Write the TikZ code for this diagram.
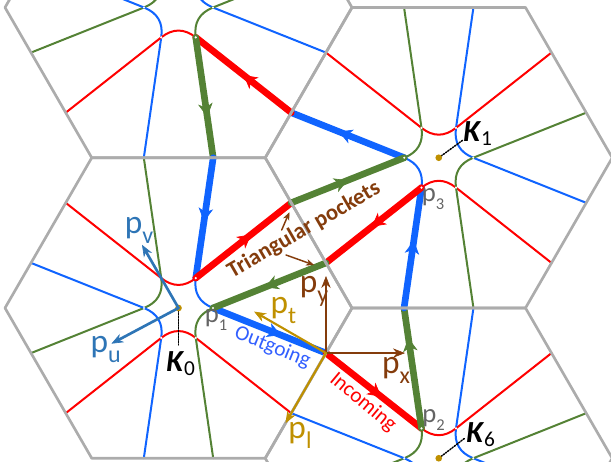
\documentclass[tikz,border=0pt]{standalone}
\usepackage{fontspec}
\setmainfont{Carlito}
\usetikzlibrary{calc,arrows.meta,decorations.markings}

\definecolor{fsred}{RGB}{255,0,0}
\definecolor{fsblue}{RGB}{16,100,255}
\definecolor{fsgreen}{RGB}{84,130,53}
\definecolor{zonegray}{RGB}{172,172,172}
\definecolor{pbrown}{RGB}{132,60,12}
\definecolor{pgold}{RGB}{191,144,0}
\definecolor{psteel}{RGB}{46,117,182}
\definecolor{pgray}{RGB}{100,100,100}
\definecolor{txtblue}{RGB}{50,95,255}

\newcommand{\lowidx}[2][0.72]{\raisebox{-0.3em}{\scalebox{#1}{#2}}}
\newcommand{\kname}[1]{\textbf{\textit{K}}\raisebox{-2.5pt}{\fontsize{16}{16}\selectfont #1}}

% zone radius and junction radius (px)
\def\zr{173.5}
\def\jr{34.5}

% six hyperbolic sheets of one zone around its K point
\newcommand{\zonesheets}[1]{%
  \foreach \k/\col in {0/fsblue,1/fsred,2/fsgreen,3/fsblue,4/fsred,5/fsgreen}{%
    \coordinate (Va) at ($(#1)+({-60*(\k+1)}:\zr)$);
    \coordinate (Vb) at ($(#1)+({-60*(\k+2)}:\zr)$);
    \coordinate (Vc) at ($(#1)+({-60*\k}:\zr)$);
    \coordinate (Vd) at ($(#1)+({-60*(\k-1)}:\zr)$);
    \coordinate (Ja) at ($(#1)+({-60*(\k+1)}:\jr)$);
    \coordinate (Jb) at ($(#1)+({-60*\k}:\jr)$);
    \coordinate (Ea) at ($(Va)!0.3!(Vb)$);
    \coordinate (Eb) at ($(Vc)!0.3!(Vd)$);
    \draw[sheet, \col] (Ea) -- (Ja)
      .. controls ($(Ja)!-11pt!(Ea)$) and ($(Jb)!-11pt!(Eb)$) .. (Jb) -- (Eb);
  }}

\begin{document}
\begin{tikzpicture}[x=0.75pt, y=-0.75pt, line cap=round, line join=round,
  sheet/.style={line width=1.5pt},
  zone/.style={draw=zonegray, line width=2pt},
  flow/.style={line width=5pt, postaction={decorate},
    decoration={markings, mark=at position #1 with
      {\arrow{Stealth[length=10pt,width=11pt,inset=3pt,line width=0.5pt]}}}},
  flow/.default=0.55,
  mom/.style={line width=1.6pt, -{Stealth[length=9pt,width=7pt,line width=0.5pt]}},
  pointer/.style={draw=pbrown, line width=1.1pt, -{Stealth[length=6pt,width=5pt,line width=0.4pt]}},
  plabel/.style={inner sep=0pt, font=\fontsize{25}{25}\selectfont},
  pnum/.style={inner sep=0pt, text=pgray, font=\fontsize{20}{20}\selectfont},
  klabel/.style={inner sep=0pt, anchor=base west, font=\fontsize{23}{23}\selectfont}]
  \useasboundingbox (0,0) rectangle (611,470);

  % K points (zone centres)
  \coordinate (T) at (178.5, 7.5);
  \coordinate (K0) at (178.5, 308);
  \coordinate (K1) at (438.75, 157.74);
  \coordinate (K6) at (438.75, 458.26);

  % Triangle corners
  \coordinate (A) at (195.75, 37.38);
  \coordinate (B) at (404.25, 157.74);
  \coordinate (C) at (195.75, 278.12);
  \coordinate (ab) at (291.28, 112.66);
  \coordinate (cb) at (291.28, 202.82);
  \coordinate (ac) at (213.2, 157.74);
  \coordinate (p1) at (213, 308);
  \coordinate (p2) at (421.5, 428.38);
  \coordinate (p3) at (421.5, 187.62);
  \coordinate (e12) at (325.98, 353.08);
  \coordinate (e13) at (325.98, 262.92);
  \coordinate (e23) at (404.05, 308);

  \begin{scope}
    \clip (0,0) rectangle (611,462);
    % Fermi sheets
    \zonesheets{T}
    \zonesheets{K0}
    \zonesheets{K1}
    \zonesheets{K6}

    % Triangular pockets
    \draw[flow=0.58, fsblue] (B) -- (ab);
    \draw[flow=0.5, fsred] (ab) -- (A);
    \draw[flow=0.66, fsgreen] (A) -- (ac);
    \draw[flow=0.53, fsblue] (ac) -- (C);
    \draw[flow=0.58, fsred] (C) -- (cb);
    \draw[flow=0.5, fsgreen] (cb) -- (B);

    \draw[flow=0.6, fsblue] (p1) -- (e12);
    \draw[flow=0.58, fsred] (e12) -- (p2);
    \draw[flow=0.75, fsgreen] (p2) -- (e23);
    \draw[flow=0.56, fsblue] (e23) -- (p3);
    \draw[flow=0.52, fsred] (p3) -- (e13);
    \draw[flow=0.54, fsgreen] (e13) -- (p1);

    % Crossings
    \foreach \c in {T,K0,K1,K6}
      \foreach \a in {0,60,...,300}
        \fill[white] ($(\c)+(\a:\jr)$) circle (0.9pt);

    % Zone boundaries
    \foreach \c in {T,K0,K1,K6}
      \draw[zone] ($(\c)+(0:\zr)$) \foreach \a in {60,120,...,300} { -- ($(\c)+(\a:\zr)$) } -- cycle;
  \end{scope}

  % K labels
  \coordinate (k0tag) at (178.5, 345);
  \coordinate (k1tag) at (463, 140);
  \coordinate (k6tag) at (465, 438);
  \draw[densely dotted, line width=1.1pt] (K0) -- (k0tag);
  \draw[densely dotted, line width=1.1pt] (K1) -- (k1tag);
  \draw[densely dotted, line width=1.1pt] (K6) -- (k6tag);
  \foreach \c in {K0,K1,K6}
    \fill[pgold] (\c) circle (2.5pt);
  \node[klabel] (k0) at (166, 372) {\kname{0}};
  \node[klabel] (k1) at (463, 142) {\kname{1}};
  \node[klabel] (k6) at (466, 443) {\kname{6}};

  % Momentum axes
  \coordinate (pv) at ($(K0)+(-120:73)$);
  \coordinate (pu) at ($(K0)+(152:76)$);
  \coordinate (px) at (405, 353.08);
  \coordinate (py) at (325.98, 276);
  \coordinate (pt) at ($(e12)+(-150:83)$);
  \coordinate (pl) at ($(e12)+(120:81)$);
  \draw[mom, psteel, line width=2pt] (K0) -- (pv);
  \draw[mom, psteel, line width=2pt] (K0) -- (pu);
  \draw[mom, pbrown] (e12) -- (px);
  \draw[mom, pbrown] (e12) -- (py);
  \draw[mom, pgold] (e12) -- (pt);
  \draw[mom, pgold] (e12) -- (pl);

  \node[plabel, text=psteel] (lv) at (139, 230) {p\lowidx{v}};
  \node[plabel, text=psteel] (lu) at (105.7, 349) {p\lowidx{u}};
  \node[plabel, text=pbrown] (lx) at (396, 370.5) {p\lowidx{x}};
  \node[plabel, text=pbrown] (ly) at (314, 291) {p\lowidx{y}};
  \node[plabel, text=pgold] (lt) at (283.3, 310) {p\lowidx{t}};
  \node[plabel, text=pgold] (ll) at (300, 435) {p\lowidx{l}};
  \node[pnum] (l1) at (216, 320) {p\lowidx[0.62]{1}};
  \node[pnum] (l2) at (433.5, 420) {p\lowidx[0.62]{2}};
  \node[pnum] (l3) at (433, 199) {p\lowidx[0.62]{3}};

  % Pocket caption
  \node[inner sep=0pt, rotate=30, text=pbrown, font=\fontsize{17}{17}\selectfont\bfseries] (tp) at (304, 230) {Triangular pockets};
  \coordinate (tp1) at (281.7, 230);
  \coordinate (tp2) at (286, 255);
  \coordinate (tip1) at (289.3, 212.3);
  \coordinate (tip2) at (314, 265);
  \draw[pointer] (tp1) -- (tip1);
  \draw[pointer] (tp2) -- (tip2);

  % Orbit labels
  \node[inner sep=0pt, rotate=-22, text=txtblue, font=\fontsize{16}{16}\selectfont] (out) at (272.5, 347.5) {Outgoing};
  \node[inner sep=0pt, rotate=-40, text=fsred, font=\fontsize{16}{16}\selectfont] (inc) at (363, 402.5) {Incoming};
\end{tikzpicture}
\end{document}
